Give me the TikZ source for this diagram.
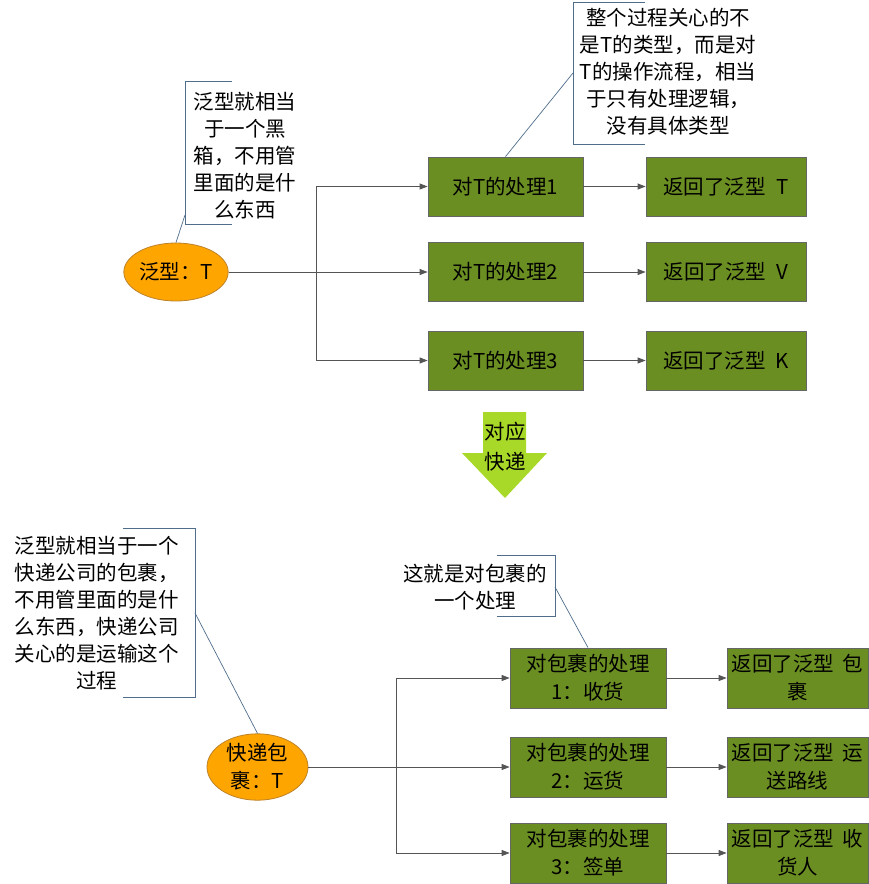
\documentclass[tikz,border=0pt]{standalone}
\usepackage{fontspec}
\setmainfont{Noto Sans CJK SC}
\usetikzlibrary{arrows.meta,shapes.geometric}
\definecolor{olivefill}{RGB}{107,142,35}
\definecolor{orangefill}{RGB}{255,165,0}
\definecolor{orangeline}{RGB}{190,130,40}
\definecolor{arrowgreen}{RGB}{168,216,40}
\definecolor{callline}{RGB}{80,110,140}
\definecolor{connline}{RGB}{85,85,85}
\begin{document}
\begin{tikzpicture}[x=1pt,y=-1pt,
  every node/.style={font=\fontsize{20.5}{27}\selectfont, text=black},
  proc/.style={draw=black!60, line width=0.8pt, fill=olivefill, minimum height=59pt, inner sep=0pt, align=center},
  oval/.style={ellipse, draw=orangeline, line width=0.8pt, fill=orangefill, inner sep=0pt, align=center},
  note/.style={align=center, inner sep=0pt},
  callbr/.style={draw=callline, line width=0.7pt},
  conn/.style={draw=connline, line width=0.8pt, -{Triangle[length=8pt,width=6pt]}},
  twoline/.style={font=\fontsize{20.5}{28}\selectfont}]
\useasboundingbox (0,0) rectangle (869,884);
\fill[white] (0,0) rectangle (869,884);

% ---------- top part ----------
\node[oval, minimum width=103pt, minimum height=58pt] (e1) at (176,272) {泛型：T};

\node[proc, minimum width=155pt] (p1) at (505.5,186.5) {对T的处理1};
\node[proc, minimum width=155pt] (p2) at (505.5,272) {对T的处理2};
\node[proc, minimum width=155pt] (p3) at (505.5,360.5) {对T的处理3};

\node[proc, minimum width=160pt] (r1) at (726,186.5) {返回了泛型\hspace{0.5em}T};
\node[proc, minimum width=160pt] (r2) at (726,272) {返回了泛型\hspace{0.5em}V};
\node[proc, minimum width=160pt] (r3) at (726,360.5) {返回了泛型\hspace{0.5em}K};

\coordinate (j1) at (316,272);
\draw[conn] (e1.east) -- (p2.west);
\draw[conn] (j1) |- (p1.west);
\draw[conn] (j1) |- (p3.west);
\draw[conn] (p1.east) -- (r1.west);
\draw[conn] (p2.east) -- (r2.west);
\draw[conn] (p3.east) -- (r3.west);

% callout 1
\node[note] (c1) at (245,156) {泛型就相当\\于一个黑\\箱，不用管\\里面的是什\\么东西};
\draw[callbr] (232,81) -- (185,81) -- (185,224) -- (232,224);
\coordinate (c1a) at (185,215);
\draw[callbr] (c1a) -- (e1.north);

% callout 2
\node[note] (c2) at (668,72) {整个过程关心的不\\是T的类型，而是对\\T的操作流程，相当\\于只有处理逻辑，\\没有具体类型};
\draw[callbr] (645,2) -- (573,2) -- (573,144) -- (645,144);
\coordinate (c2a) at (573,73);
\draw[callbr] (c2a) -- (p1.north);

% down arrow
\fill[arrowgreen] (483,412) -- (526,412) -- (526,453) -- (547,453) -- (505,498) -- (462,453) -- (483,453) -- cycle;
\node[note, font=\fontsize{20.5}{30}\selectfont] (da) at (505,447) {对应\\快递};

% ---------- bottom part ----------
\node[oval, twoline, minimum width=101pt, minimum height=58pt] (e2) at (257.5,767) {快递包\\裹：T};

\node[proc, twoline, minimum width=156pt, minimum height=60pt] (q1) at (588,678) {对包裹的处理\\1：收货};
\node[proc, twoline, minimum width=156pt, minimum height=60pt] (q2) at (588,767) {对包裹的处理\\2：运货};
\node[proc, twoline, minimum width=156pt, minimum height=60pt] (q3) at (588,853) {对包裹的处理\\3：签单};

\node[proc, twoline, minimum width=141pt, minimum height=60pt] (s1) at (797.5,678) {返回了泛型\hspace{0.4em}包\\裹};
\node[proc, twoline, minimum width=141pt, minimum height=60pt] (s2) at (797.5,767) {返回了泛型\hspace{0.4em}运\\送路线};
\node[proc, twoline, minimum width=141pt, minimum height=60pt] (s3) at (797.5,853) {返回了泛型\hspace{0.4em}收\\货人};

\coordinate (j2) at (396,767);
\draw[conn] (e2.east) -- (q2.west);
\draw[conn] (j2) |- (q1.west);
\draw[conn] (j2) |- (q3.west);
\draw[conn] (q1.east) -- (s1.west);
\draw[conn] (q2.east) -- (s2.west);
\draw[conn] (q3.east) -- (s3.west);

% callout 3
\node[note] (c3) at (97,613.5) {泛型就相当于一个\\快递公司的包裹，\\不用管里面的是什\\么东西，快递公司\\关心的是运输这个\\过程};
\draw[callbr] (123,528) -- (195,528) -- (195,697) -- (123,697);
\coordinate (c3a) at (195,613);
\draw[callbr] (c3a) -- (e2.north);

% callout 4
\node[note] (c4) at (475,587) {这就是对包裹的\\一个处理};
\draw[callbr] (497,555) -- (555,555) -- (555,616) -- (497,616);
\coordinate (c4a) at (555,587);
\draw[callbr] (c4a) -- (q1.north);
\end{tikzpicture}
\end{document}
